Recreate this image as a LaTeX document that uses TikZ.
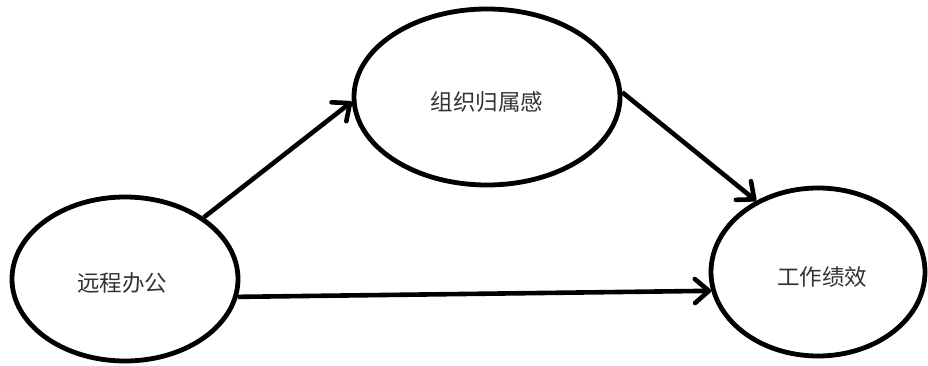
\documentclass[tikz,border=0pt]{standalone}
\usepackage{fontspec}
\setmainfont{Noto Sans CJK SC}
\usetikzlibrary{shapes.geometric,arrows.meta}
\begin{document}
\begin{tikzpicture}[x=1pt,y=-1pt,
  oval/.style={ellipse,draw=black,line width=4.8pt,inner sep=0pt,font=\fontsize{22.5}{24}\selectfont,text=black!80},
  link/.style={line width=4.6pt,-{Straight Barb[length=14pt,width=24pt,line cap=round,line join=round]}}]
\useasboundingbox (0,0) rectangle (928,366);
\node[oval,minimum width=226pt,minimum height=164pt] (remote) at (125,279) {};
\node[oval,minimum width=266pt,minimum height=176pt] (belong) at (487,97) {};
\node[oval,minimum width=214pt,minimum height=168pt] (perf) at (818,272) {};
\node[font=\fontsize{22.5}{24}\selectfont,text=black!80] (t1) at (122,283) {远程办公};
\node[font=\fontsize{22.5}{24}\selectfont,text=black!80] (t2) at (487,102) {组织归属感};
\node[font=\fontsize{22.5}{24}\selectfont,text=black!80] (t3) at (822,277) {工作绩效};
\draw[link] (remote.38) -- (belong.182);
\draw[link] (belong.2) -- (perf.131);
\draw[link] (remote.-9) -- (perf.190);
\end{tikzpicture}
\end{document}
